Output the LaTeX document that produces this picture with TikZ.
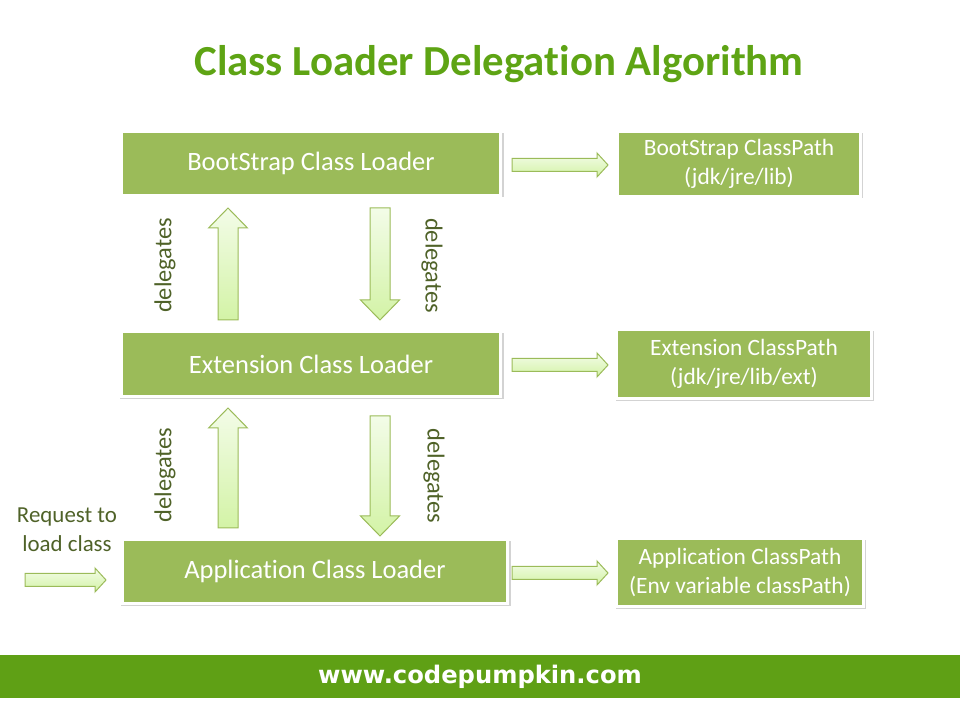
\documentclass[tikz,border=0pt]{standalone}
\usepackage{fontspec}
\setmainfont{Carlito}[Ligatures=NoCommon]
\newfontfamily\webfont{DejaVu Sans}
\usepackage{tikz}
\usetikzlibrary{calc,shadows}
\definecolor{boxgreen}{HTML}{9BBB59}
\definecolor{titlegreen}{HTML}{5EA414}
\definecolor{bandgreen}{HTML}{5FA015}
\definecolor{labelolive}{HTML}{4F6228}
\definecolor{arrowtop}{HTML}{F3FCE8}
\definecolor{arrowbot}{HTML}{D3F3A6}

\begin{document}
\begin{tikzpicture}[line join=miter,
  loader/.style={draw=white,line width=3bp,fill=boxgreen,text=white,rectangle,inner sep=0pt,
    drop shadow={shadow xshift=1.2bp,shadow yshift=-1.6bp,shadow scale=1.012,opacity=0.35},
    font=\fontsize{26.6}{30}\selectfont},
  classpath/.style={loader,align=center,font=\fontsize{23.5}{29}\selectfont},
  fat arrow/.style n args={3}{draw=boxgreen,line width=1bp,top color=arrowtop,bottom color=arrowbot,
    to path={($(\tikztostart)!#1!90:(\tikztotarget)$)
      -- ($(\tikztotarget)!#3!(\tikztostart)!#1!-90:(\tikztostart)$)
      -- ($(\tikztotarget)!#3!(\tikztostart)!#2!-90:(\tikztostart)$)
      -- (\tikztotarget)
      -- ($(\tikztotarget)!#3!(\tikztostart)!#2!90:(\tikztostart)$)
      -- ($(\tikztotarget)!#3!(\tikztostart)!#1!90:(\tikztostart)$)
      -- ($(\tikztostart)!#1!-90:(\tikztotarget)$) -- cycle}},
  hflow/.style={fat arrow={6.5bp}{12bp}{11bp}},
  vflow/.style={fat arrow={10bp}{19.5bp}{20bp}},
  delegates/.style={text=labelolive,font=\fontsize{24.5}{28}\selectfont}]
\useasboundingbox (0,0) rectangle (960bp,720bp);
%%
\node (title) at (499bp,656bp) [text=titlegreen,font=\bfseries\fontsize{43}{50}\selectfont] {Class Loader Delegation Algorithm};
\begin{scope}
  \node (BootStrap Class Loader) at (311bp,556.5bp) [loader,minimum width=379bp,minimum height=64bp] {BootStrap Class Loader};
  \node (Extension Class Loader) at (311bp,356bp) [loader,minimum width=379bp,minimum height=65bp] {Extension Class Loader};
  \node (Application Class Loader) at (315bp,148.5bp) [loader,minimum width=385bp,minimum height=64bp] {Application Class Loader};
  \node (BootStrap ClassPath) at (739bp,556bp) [classpath,minimum width=243bp,minimum height=65bp] {BootStrap ClassPath\\(jdk/jre/lib)};
  \node (Extension ClassPath) at (744bp,356bp) [classpath,minimum width=255bp,minimum height=69bp] {Extension ClassPath\\(jdk/jre/lib/ext)};
  \node (Application ClassPath) at (740bp,147.5bp) [classpath,minimum width=247bp,minimum height=68bp] {Application ClassPath\\(Env variable classPath)};
\end{scope}
%
\node (Request) at (67bp,190bp) [text=labelolive,align=center,font=\fontsize{23}{29}\selectfont] {Request to\\load class};
\node (D0) at (165bp,454.5bp) [delegates,rotate=90] {delegates};
\node (D1) at (432bp,454.5bp) [delegates,rotate=-90] {delegates};
\node (D2) at (165bp,245bp) [delegates,rotate=90] {delegates};
\node (D3) at (434bp,244bp) [delegates,rotate=-90] {delegates};
%
\coordinate (R0) at ([xshift=-96bp,yshift=-8.5bp]Application Class Loader.west);
\coordinate (R1) at ([xshift=-15bp,yshift=-8.5bp]Application Class Loader.west);
\coordinate (U0) at (228bp,400bp);  \coordinate (U1) at (228bp,512bp);
\coordinate (W0) at (380bp,512bp);  \coordinate (W1) at (380bp,400bp);
\coordinate (U2) at (228bp,192bp);  \coordinate (U3) at (228bp,312bp);
\coordinate (W2) at (380bp,304bp);  \coordinate (W3) at (380bp,184bp);
\coordinate (H0) at (512bp,555bp);  \coordinate (H1) at (608bp,555bp);
\coordinate (H2) at (512bp,355bp);  \coordinate (H3) at (608bp,355bp);
\coordinate (H4) at (512bp,147bp);  \coordinate (H5) at (608bp,147bp);
\begin{scope}
  \draw [hflow] (R0) to (R1);
  \draw [vflow] (U0) to (U1);
  \draw [vflow] (W0) to (W1);
  \draw [vflow] (U2) to (U3);
  \draw [vflow] (W2) to (W3);
  \draw [hflow] (H0) to (H1);
  \draw [hflow] (H2) to (H3);
  \draw [hflow] (H4) to (H5);
\end{scope}
%
\node (footer) at (480bp,43.5bp) [fill=bandgreen,minimum width=960bp,minimum height=43bp,inner sep=0pt,text=white,font=\webfont\bfseries\fontsize{24.3}{28}\selectfont] {www.codepumpkin.com};
\end{tikzpicture}
\end{document}
